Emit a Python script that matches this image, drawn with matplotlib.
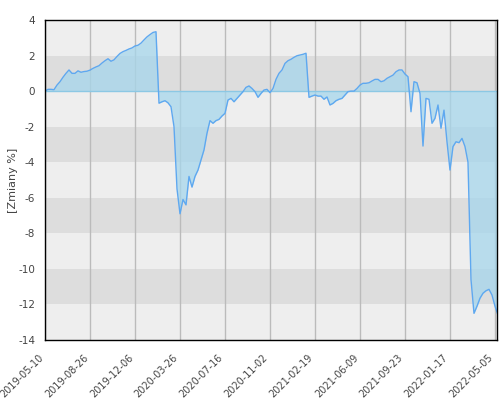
import matplotlib

matplotlib.use("Agg")
import matplotlib.pyplot as plt
import numpy as np

changes = [
    0.0, 0.1, 0.1, 0.08, 0.34, 0.53, 0.78, 1.0, 1.19, 1.0,
    1.0, 1.14, 1.06, 1.1, 1.12, 1.18, 1.28, 1.36, 1.43, 1.58,
    1.71, 1.82, 1.68, 1.76, 1.95, 2.12, 2.22, 2.29, 2.37, 2.43,
    2.54, 2.58, 2.7, 2.88, 3.05, 3.18, 3.3, 3.34, -0.68, -0.6,
    -0.54, -0.66, -0.88, -2.0, -5.5, -6.9, -6.1, -6.4, -4.8, -5.4,
    -4.8, -4.44, -3.88, -3.31, -2.37, -1.66, -1.81, -1.66, -1.59, -1.4,
    -1.25, -0.5, -0.41, -0.6, -0.41, -0.22, -0.03, 0.21, 0.29, 0.15,
    -0.03, -0.35, -0.13, 0.06, 0.1, -0.09, 0.15, 0.66, 1.0, 1.19,
    1.56, 1.71, 1.79, 1.9, 1.99, 2.03, 2.07, 2.13, -0.35, -0.28,
    -0.22, -0.28, -0.28, -0.46, -0.33, -0.78, -0.69, -0.54, -0.46, -0.41,
    -0.22, -0.03, 0.0, 0.0, 0.15, 0.34, 0.44, 0.44, 0.47, 0.57,
    0.66, 0.66, 0.53, 0.58, 0.72, 0.81, 0.9, 1.09, 1.19, 1.19,
    0.96, 0.81, -1.16, 0.53, 0.47, -0.13, -3.09, -0.41, -0.46, -1.81,
    -1.53, -0.78, -2.09, -1.07, -2.85, -4.44, -3.12, -2.85, -2.9, -2.66,
    -3.12, -4.0, -10.6, -12.5, -12.1, -11.65, -11.37, -11.23, -11.15, -11.47,
    -12.1, -12.6,
]

tick_labels = [
    "2019-05-10", "2019-08-26", "2019-12-06", "2020-03-26",
    "2020-07-16", "2020-11-02", "2021-02-19", "2021-06-09",
    "2021-09-23", "2022-01-17", "2022-05-05",
]
tick_step = 15

y_ticks = list(range(-14, 5, 2))
dark_bands = [(0, 2), (-4, -2), (-8, -6), (-12, -10)]


def main() -> None:
    x = np.arange(len(changes))
    y = np.array(changes)

    fig = plt.figure(figsize=(5, 4), dpi=100)
    ax = fig.add_axes([0.09, 0.15, 0.904, 0.80])

    ax.set_facecolor("#eeeeee")
    for low, high in dark_bands:
        ax.axhspan(low, high, color="#dddddd", lw=0, zorder=0)

    ticks = [i * tick_step for i in range(len(tick_labels))]
    for t in ticks:
        ax.axvline(t, color="#bbbbbb", lw=1, zorder=1)

    ax.fill_between(x, y, 0, color="#a6d6ec", alpha=0.75, lw=0, zorder=2)
    ax.axhline(0, color="#8cc8e4", lw=1, zorder=3)
    ax.plot(x, y, color="#5ea8f0", lw=1, zorder=4)

    ax.set_xlim(0, 150.67)
    ax.set_ylim(-14, 4)

    ax.set_xticks(ticks)
    ax.set_xticklabels(tick_labels, rotation=45, ha="right", fontsize=7, color="#444444")
    ax.set_yticks(y_ticks)
    ax.set_yticklabels([str(v) for v in y_ticks], fontsize=7.5, color="#444444")
    ax.tick_params(axis="x", length=0, pad=9)
    ax.tick_params(axis="y", length=0, pad=7)

    for spine in ax.spines.values():
        spine.set_color("black")
        spine.set_linewidth(1)
        spine.set_zorder(5)

    ax.set_ylabel("[Zmiany %]", fontsize=8, color="#444444")
    ax.yaxis.set_label_coords(-0.06, 0.5)

    fig.savefig("out.png", dpi=100)
    plt.close(fig)


if __name__ == "__main__":
    main()
